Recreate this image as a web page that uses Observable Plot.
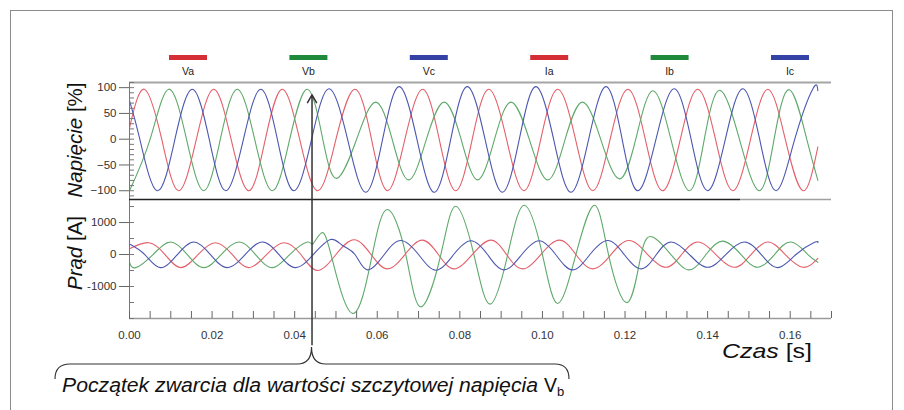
<!DOCTYPE html>
<html><head><meta charset="utf-8">
<script src="https://cdn.jsdelivr.net/npm/d3@7"></script>
<script src="https://cdn.jsdelivr.net/npm/@observablehq/plot@0.6"></script>
<style>
body{margin:0;background:#fff;}
#wrap{position:relative;width:904px;height:410px;overflow:hidden;background:#fff;}
#wrap svg{position:absolute;left:0;overflow:visible;}
</style></head><body><div id="wrap"></div>
<script>
// ---------- data (time [s], value) ----------
const Va = [[0,22],[0.0036,97],[0.0078,0],[0.0119,-100],[0.0162,0],[0.0204,97],[0.0246,0],[0.0289,-100],[0.0329,0],[0.0370,97],[0.0412,0],[0.0456,-100],[0.0500,0],[0.0546,97],[0.0586,0],[0.0625,-100],[0.0667,0],[0.0710,97],[0.0750,0],[0.0790,-100],[0.0830,0],[0.0870,97],[0.0913,0],[0.0955,-100],[0.0996,0],[0.1037,97],[0.1080,0],[0.1122,-100],[0.1164,0],[0.1207,97],[0.1249,0],[0.1291,-100],[0.1334,0],[0.1376,97],[0.1419,0],[0.1461,-100],[0.1504,0],[0.1546,97],[0.1588,0],[0.1631,-100],[0.1667,-15]];
const Vb = [[0,-100],[0.0050,0],[0.0095,97],[0.0138,0],[0.0180,-100],[0.0220,0],[0.0261,97],[0.0303,0],[0.0346,-100],[0.0388,0],[0.0431,97],[0.0468,0],[0.0502,-76],[0.0550,0],[0.0596,72],[0.0636,0],[0.0676,-79],[0.0719,0],[0.0762,72],[0.0803,0],[0.0843,-79],[0.0884,0],[0.0924,72],[0.0968,0],[0.1013,-79],[0.1055,0],[0.1097,72],[0.1141,0],[0.1186,-77],[0.1226,0],[0.1267,94],[0.1311,0],[0.1356,-100],[0.1392,0],[0.1429,95],[0.1477,0],[0.1525,-100],[0.1561,0],[0.1598,96],[0.1640,0],[0.1667,-80]];
const Vc = [[0,75],[0.0025,0],[0.0067,-100],[0.0110,0],[0.0152,97],[0.0193,0],[0.0233,-100],[0.0276,0],[0.0318,97],[0.0358,0],[0.0398,-100],[0.0441,0],[0.0483,98],[0.0528,0],[0.0572,-103],[0.0613,0],[0.0653,102],[0.0696,0],[0.0738,-103],[0.0778,0],[0.0818,102],[0.0861,0],[0.0903,-103],[0.0944,0],[0.0984,102],[0.1027,0],[0.1069,-103],[0.1112,0],[0.1154,102],[0.1193,0],[0.1231,-100],[0.1275,0],[0.1319,98],[0.1360,0],[0.1400,-100],[0.1443,0],[0.1485,98],[0.1526,0],[0.1566,-100],[0.1611,0],[0.1655,98],[0.1667,94]];
const Ia = [[0,180],[0.0047,370],[0.0086,0],[0.0124,-410],[0.0166,0],[0.0208,370],[0.0249,0],[0.0289,-410],[0.0332,0],[0.0374,370],[0.0415,0],[0.0455,-500],[0.0500,0],[0.0544,460],[0.0585,0],[0.0625,-450],[0.0667,0],[0.0709,450],[0.0748,0],[0.0786,-450],[0.0830,0],[0.0875,450],[0.0913,0],[0.0952,-450],[0.0996,0],[0.1041,450],[0.1081,0],[0.1122,-450],[0.1166,0],[0.1210,440],[0.1255,0],[0.1299,-400],[0.1337,0],[0.1376,390],[0.1420,0],[0.1465,-400],[0.1505,0],[0.1546,390],[0.1588,0],[0.1631,-400],[0.1667,-120]];
const Ib = [[0,-240],[0.0015,-410],[0.0057,0],[0.0099,390],[0.0140,0],[0.0180,-410],[0.0222,0],[0.0265,390],[0.0305,0],[0.0346,-410],[0.0388,0],[0.0431,390],[0.0444,330],[0.0464,670],[0.0488,0],[0.0540,-1840],[0.0588,0],[0.0625,1405],[0.0669,0],[0.0705,-1635],[0.0754,0],[0.0790,1510],[0.0834,0],[0.0873,-1550],[0.0916,0],[0.0956,1540],[0.1000,0],[0.1037,-1530],[0.1081,0],[0.1126,1540],[0.1160,0],[0.1206,-1500],[0.1239,0],[0.1267,545],[0.1311,0],[0.1356,-480],[0.1396,0],[0.1437,420],[0.1481,0],[0.1521,-400],[0.1562,0],[0.1602,390],[0.1643,0],[0.1667,-240]];
const Ic = [[0,330],[0.0037,0],[0.0075,-410],[0.0116,0],[0.0156,390],[0.0196,0],[0.0237,-410],[0.0280,0],[0.0322,390],[0.0362,0],[0.0402,-410],[0.0445,0],[0.0487,470],[0.0516,280],[0.0546,0],[0.0576,-480],[0.0617,0],[0.0657,440],[0.0700,0],[0.0742,-490],[0.0785,0],[0.0827,430],[0.0867,0],[0.0907,-480],[0.0950,0],[0.0992,430],[0.1032,0],[0.1073,-480],[0.1115,0],[0.1158,440],[0.1198,0],[0.1239,-450],[0.1276,0],[0.1312,390],[0.1356,0],[0.1400,-400],[0.1444,0],[0.1489,390],[0.1530,0],[0.1570,-410],[0.1614,0],[0.1659,380],[0.1667,370]];

const legendNames = ["Va","Vb","Vc","Ia","Ib","Ic"];
const voltTicks = [100, 50, 0, -50, -100];
const currTicks = [1000, 0, -1000];
const timeTicks = [0, 0.02, 0.04, 0.06, 0.08, 0.10, 0.12, 0.14, 0.16];
const faultTime = 0.0442;   // start of the short circuit (peak of Vb)

// ---------- layout / style ----------
const FONT = '"Liberation Sans", Arial, sans-serif';
const W = 904, ML = 129, MR = 73, innerW = W - ML - MR;
const xDomain = [0, 0.17];
const vDomain = [-117, 110];
const iDomain = [-2000, 1720];
const lineCol = {red: "#e3606a", green: "#5fa96a", blue: "#4d57af"};
const swatchCol = ["#d42f37", "#1f8a3c", "#3442a6", "#d42f37", "#1f8a3c", "#3442a6"];
const rows = arr => arr.map(([t, v]) => ({t, v}));
const voltMinor = d3.range(-110, 111, 10);
const currMinor = d3.range(-2000, 1720, 500);
const timeMinor = d3.range(0, 0.1701, 0.005);
const styleObj = {fontFamily: FONT, fontSize: "11.5px", color: "#333", background: "transparent", overflow: "visible"};
const lineOpts = (c) => ({x: "t", y: "v", curve: "natural", stroke: c, strokeWidth: 1.1});

const vTop = 82, vH = 117;
const vPlot = Plot.plot({
  width: W, height: vTop + vH + 2, marginLeft: ML, marginRight: MR, marginTop: vTop, marginBottom: 2,
  x: {domain: xDomain, axis: null}, y: {domain: vDomain, axis: null},
  style: styleObj,
  marks: [
    Plot.line(rows(Va), lineOpts(lineCol.red)),
    Plot.line(rows(Vb), lineOpts(lineCol.green)),
    Plot.line(rows(Vc), lineOpts(lineCol.blue)),
    Plot.ruleY([vDomain[1]], {stroke: "#a5a5a5", strokeWidth: 2}),
    Plot.ruleX([0], {stroke: "#777"}),
    Plot.axisY(voltTicks, {anchor: "left", tickSize: 10, tickPadding: 3, label: null, stroke: "#666"}),
    Plot.tickY(voltMinor, {insetRight: innerW - 5, stroke: "#777"}),
    Plot.arrow([faultTime], {x1: d => d, x2: d => d, y1: vDomain[0], y2: 86, stroke: "#333", strokeWidth: 1.5, headLength: 9})
  ]
});

const iTopPage = 189, iTopM = 10, iH = 119, iBotM = 30;
const iPlot = Plot.plot({
  width: W, height: iTopM + iH + iBotM, marginLeft: ML, marginRight: MR, marginTop: iTopM, marginBottom: iBotM,
  x: {domain: xDomain, axis: null}, y: {domain: iDomain, axis: null},
  style: styleObj,
  marks: [
    Plot.line(rows(Ia), lineOpts(lineCol.red)),
    Plot.line(rows(Ib), lineOpts(lineCol.green)),
    Plot.line(rows(Ic), lineOpts(lineCol.blue)),
    Plot.ruleY([iDomain[0]], {stroke: "#9a9a9a", strokeWidth: 1.5}),
    Plot.ruleX([0], {stroke: "#777"}),
    Plot.ruleY([iDomain[1]], {x1: xDomain[0], x2: 0.148, stroke: "#222", strokeWidth: 1.5}),
    Plot.ruleY([iDomain[1]], {x1: 0.148, x2: xDomain[1], stroke: "#a0a0a0", strokeWidth: 1.5}),
    Plot.axisY(currTicks, {anchor: "left", tickSize: 10, tickPadding: 3, label: null, stroke: "#666", tickFormat: d => String(d)}),
    Plot.tickY(currMinor, {insetRight: innerW - 5, stroke: "#777"}),
    Plot.tickX(timeMinor, {insetTop: iH - 7, stroke: "#666"}),
    Plot.axisX(timeTicks, {anchor: "bottom", tickSize: 0, tickPadding: 12, tickFormat: d3.format(".2f"), label: null}),
    Plot.ruleX([faultTime], {y1: iDomain[1], y2: -2850, stroke: "#333", strokeWidth: 1.5})
  ]
});

const wrap = document.getElementById("wrap");
vPlot.style.top = "0px";
iPlot.style.top = iTopPage + "px";
wrap.appendChild(vPlot);
wrap.appendChild(iPlot);

// ---------- overlay: frame, legend, titles, annotation ----------
const ov = d3.select(wrap).append("svg").attr("width", W).attr("height", 410).style("top", "0px").style("font-family", FONT);
ov.append("rect").attr("x", 10.5).attr("y", 10.5).attr("width", 882).attr("height", 430)
  .attr("fill", "none").attr("stroke", "#8c8c8c");

legendNames.forEach((name, i) => {
  const cx = 188 + i * 120.4;
  ov.append("rect").attr("x", cx - 19).attr("y", 55).attr("width", 38).attr("height", 5).attr("fill", swatchCol[i]);
  ov.append("text").attr("x", cx).attr("y", 75).attr("text-anchor", "middle")
    .attr("font-size", 10.5).attr("fill", "#222").text(name);
});

function yTitle(italic, normal, cy) {
  const t = ov.append("text").attr("transform", `translate(82,${cy}) rotate(-90)`)
    .attr("text-anchor", "middle").attr("font-size", 20.5).attr("fill", "#111");
  t.append("tspan").attr("font-style", "italic").text(italic);
  t.append("tspan").text(normal);
}
yTitle("Napięcie", " [%]", 140);
yTitle("Prąd", " [A]", 253);

const cz = ov.append("text").attr("x", 722).attr("y", 358).attr("font-size", 21).attr("fill", "#111")
  .attr("textLength", 90).attr("lengthAdjust", "spacingAndGlyphs");
cz.append("tspan").attr("font-style", "italic").text("Czas");
cz.append("tspan").text(" [s]");

const xs = iPlot.scale("x");
const tip = xs.apply(faultTime);
const yb = 364, tipY = 347;
ov.append("path")
  .attr("d", `M55,379 Q55,${yb} 70,${yb} L${tip - 14},${yb} Q${tip},${yb} ${tip},${tipY} Q${tip},${yb} ${tip + 14},${yb} L555,${yb} Q569,${yb} 569,379`)
  .attr("fill", "none").attr("stroke", "#333").attr("stroke-width", 1.2);

const ann = ov.append("text").attr("x", 62).attr("y", 392).attr("font-size", 19.5).attr("fill", "#111");
ann.append("tspan").attr("font-style", "italic").attr("textLength", 476).attr("lengthAdjust", "spacingAndGlyphs")
  .text("Początek zwarcia dla wartości szczytowej napięcia");
ann.append("tspan").attr("x", 544).text("V");
ann.append("tspan").attr("font-size", 13).attr("dy", 4).text("b");
</script>
</body></html>
